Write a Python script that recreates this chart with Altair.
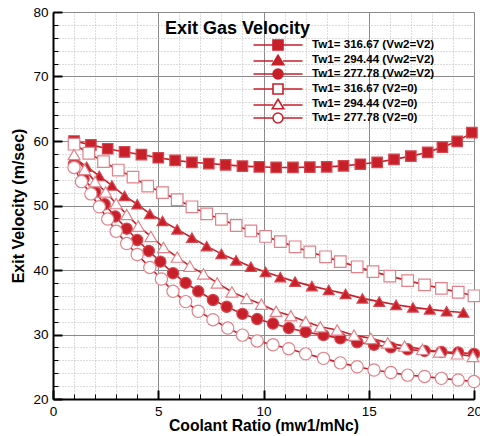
import altair as alt
import pandas as pd

# ---------------- data ----------------
chart_title = ["Exit Gas Velocity"]

names = [
    "Tw1= 316.67 (Vw2=V2)",
    "Tw1= 294.44 (Vw2=V2)",
    "Tw1= 277.78 (Vw2=V2)",
    "Tw1= 316.67 (V2=0)",
    "Tw1= 294.44 (V2=0)",
    "Tw1= 277.78 (V2=0)",
]

fs_x = [1.0, 1.8, 2.6, 3.4, 4.2, 5.0, 5.8, 6.6, 7.4, 8.2, 9.0, 9.8, 10.6, 11.4, 12.2,
        13.0, 13.8, 14.6, 15.4, 16.2, 17.0, 17.8, 18.5, 19.2, 19.9]
fs_y = [60.0, 59.4, 58.8, 58.3, 57.9, 57.4, 57.0, 56.7, 56.5, 56.3, 56.1, 56.0, 55.9, 55.9, 55.95,
        56.0, 56.15, 56.4, 56.7, 57.15, 57.65, 58.25, 59.05, 59.95, 61.3]

ft_x = [1.0, 1.6, 2.2, 2.8, 3.4, 4.0, 4.6, 5.2, 5.9, 6.6, 7.3, 8.0, 8.7, 9.4, 10.1, 10.8,
        11.5, 12.3, 13.1, 13.9, 14.7, 15.5, 16.3, 17.1, 17.9, 18.7, 19.5]
ft_y = [57.4, 56.0, 54.6, 53.1, 51.5, 50.2, 48.7, 47.6, 46.3, 45.0, 43.7, 42.5, 41.5, 40.5, 39.7, 38.9,
        38.2, 37.5, 36.9, 36.3, 35.6, 35.1, 34.6, 34.2, 33.9, 33.6, 33.4]

fc_x = [1.0, 1.45, 2.0, 2.45, 2.95, 3.5, 4.0, 4.55, 5.1, 5.7, 6.3, 6.9, 7.6, 8.25, 9.0, 9.7,
        10.45, 11.2, 12.0, 12.85, 13.65, 14.45, 15.25, 16.05, 16.85, 17.65, 18.45, 19.25, 20.0]
fc_y = [56.3, 54.2, 52.1, 50.2, 48.3, 46.4, 44.65, 42.95, 41.3, 39.5, 38.0, 36.7, 35.35, 34.3, 33.2, 32.4,
        31.7, 31.0, 30.4, 29.9, 29.4, 28.8, 28.4, 28.0, 27.7, 27.45, 27.3, 27.2, 27.0]

os_x = [1.0, 1.7, 2.4, 3.1, 3.8, 4.5, 5.2, 5.9, 6.6, 7.3, 8.0, 8.7, 9.4, 10.1, 10.8, 11.5,
        12.2, 12.95, 13.65, 14.45, 15.2, 16.0, 16.85, 17.65, 18.45, 19.25, 20.0]
os_y = [59.5, 58.1, 56.8, 55.5, 54.4, 53.0, 52.0, 50.9, 49.8, 48.7, 47.85, 46.9, 46.05, 45.2, 44.4, 43.6,
        42.8, 42.05, 41.3, 40.5, 39.75, 39.05, 38.35, 37.7, 37.15, 36.55, 36.0]

ot_x = [1.0, 1.5, 2.0, 2.5, 3.0, 3.5, 4.05, 4.65, 5.25, 5.9, 6.5, 7.15, 7.8, 8.5, 9.2, 9.9,
        10.6, 11.3, 12.0, 12.7, 13.5, 14.3, 15.1, 15.9, 16.7, 17.55, 18.35, 19.2, 19.95]
ot_y = [57.9, 55.6, 53.7, 52.1, 50.3, 48.6, 46.8, 45.2, 43.5, 42.0, 40.6, 39.4, 38.0, 36.6, 35.6, 34.7,
        33.6, 32.9, 32.0, 31.2, 30.7, 29.9, 29.4, 28.7, 28.2, 27.7, 27.3, 27.0, 26.6]

oc_x = [1.0, 1.35, 1.8, 2.2, 2.6, 3.0, 3.5, 4.0, 4.6, 5.15, 5.7, 6.3, 6.9, 7.6, 8.3, 9.0,
        9.7, 10.45, 11.2, 12.0, 12.85, 13.65, 14.45, 15.25, 16.05, 16.85, 17.65, 18.45, 19.25, 20.0]
oc_y = [55.9, 53.7, 51.8, 49.8, 47.9, 46.0, 44.1, 42.4, 40.4, 38.6, 36.7, 35.1, 33.6, 32.3, 31.0, 29.9,
        29.0, 28.4, 27.8, 27.0, 26.3, 25.6, 25.0, 24.5, 24.1, 23.7, 23.5, 23.2, 22.95, 22.7]

major_x = [0, 5, 10, 15, 20]
major_y = [20, 30, 40, 50, 60, 70, 80]
minor_x = list(range(0, 21))
minor_y = list(range(20, 81, 2))

series_x = [fs_x, ft_x, fc_x, os_x, ot_x, oc_x]
series_y = [fs_y, ft_y, fc_y, os_y, ot_y, oc_y]

rows = []
for n, xs_, ys_ in zip(names, series_x, series_y):
    for j, (a, b) in enumerate(zip(xs_, ys_)):
        rows.append({"series": n, "x": a, "y": b, "idx": j})
df = pd.DataFrame(rows)

# ---------------- styling ----------------
RED = "#c8202a"
PINK = "#e38089"
FONT = "Liberation Sans"
W, H = 421, 387


def X(axis):
    return alt.X("x:Q", scale=alt.Scale(domain=[0, 20], nice=False, zero=False), axis=axis)


def Y(axis):
    return alt.Y("y:Q", scale=alt.Scale(domain=[20, 80], nice=False, zero=False), axis=axis)


base = alt.Chart(df)
noax = dict(labels=False, ticks=False, domain=False, title=None)

grid_minor = base.mark_point(opacity=0).encode(
    x=X(alt.Axis(values=minor_x, grid=True, gridColor="#b8b8b8", gridDash=[1, 2], gridWidth=1, **noax)),
    y=Y(alt.Axis(values=minor_y, grid=True, gridColor="#b8b8b8", gridDash=[1, 2], gridWidth=1, **noax)),
)

grid_major = base.mark_point(opacity=0).encode(
    x=X(alt.Axis(orient="bottom", values=major_x, grid=True, gridColor="#8a8a8a", gridWidth=1,
                 ticks=False, domain=True, domainColor="black", domainWidth=2,
                 labelFont=FONT, labelFontSize=13.5, labelColor="black", labelPadding=5,
                 labelFlush=False, labelOverlap=False, format="d",
                 title="Coolant Ratio (mw1/mNc)", titleFont=FONT, titleFontSize=15.7,
                 titleFontWeight="bold", titleColor="black", titlePadding=1)),
    y=Y(alt.Axis(orient="left", values=major_y, grid=True, gridColor="#8a8a8a", gridWidth=1,
                 ticks=False, domain=True, domainColor="black", domainWidth=2,
                 labelFont=FONT, labelFontSize=13.5, labelColor="black", labelPadding=5,
                 labelFlush=False, labelOverlap=False, format="d",
                 title="Exit Velocity (m/sec)", titleFont=FONT, titleFontSize=16,
                 titleFontWeight="bold", titleColor="black", titlePadding=6)),
)

ticks_minor = base.mark_point(opacity=0).encode(
    x=X(alt.Axis(orient="top", offset=-H, values=minor_x, ticks=True, tickSize=5, tickColor="black",
                 tickWidth=1, labels=False, domain=False, grid=False, title=None)),
    y=Y(alt.Axis(orient="right", offset=-W, values=minor_y, ticks=True, tickSize=5, tickColor="black",
                 tickWidth=1, labels=False, domain=False, grid=False, title=None)),
)

ticks_major = base.mark_point(opacity=0).encode(
    x=X(alt.Axis(orient="top", offset=-H, values=major_x, ticks=True, tickSize=9, tickColor="black",
                 tickWidth=2, labels=False, domain=False, grid=False, title=None)),
    y=Y(alt.Axis(orient="right", offset=-W, values=major_y, ticks=True, tickSize=9, tickColor="black",
                 tickWidth=2, labels=False, domain=False, grid=False, title=None)),
)

lines = base.mark_line(color=RED, strokeWidth=1.6).encode(
    x=X(None), y=Y(None), detail="series:N", order="idx:Q"
)

points = base.mark_point(filled=True, opacity=1, strokeWidth=1.2).encode(
    x=X(None),
    y=Y(None),
    shape=alt.Shape("series:N", scale=alt.Scale(domain=names, range=["square", "triangle-up", "circle"] * 2), legend=None),
    fill=alt.Fill("series:N", scale=alt.Scale(domain=names, range=[RED] * 3 + ["white"] * 3), legend=None),
    stroke=alt.Stroke("series:N", scale=alt.Scale(domain=names, range=["#d8474f"] * 3 + [PINK] * 3), legend=None),
    size=alt.Size("series:N", scale=alt.Scale(domain=names, range=[110, 150, 110, 110, 150, 110]), legend=None),
)

legend_paths = [
    "M-4.9,0H-1M1,0H4.9M-1,-1H1V1H-1Z",
    "M-4.9,0.2H-1M1,0.2H4.9M0,-0.95L1.15,0.95H-1.15Z",
    "M-4.9,0H-1M1,0H4.9M-1,0A1,1,0,1,1,1,0A1,1,0,1,1,-1,0Z",
] * 2
legend_fills = [RED] * 3 + ["white"] * 3
legend_strokes = [RED] * 6

leg_props = dict(
    orient="none", legendX=219, legendY=27, title=None, padding=0,
    labelFont=FONT, labelFontSize=11.6, labelFontWeight="bold", labelColor="black",
    labelOffset=28, labelLimit=400, rowPadding=-3.6,
    symbolSize=100, symbolStrokeWidth=1.6,
)

legend_layer = base.transform_filter("false").mark_point(
    filled=True, opacity=1, strokeWidth=1.6, size=100
).encode(
    x=X(None),
    y=Y(None),
    shape=alt.Shape("series:N", scale=alt.Scale(domain=names, range=legend_paths), legend=alt.Legend(**leg_props)),
    fill=alt.Fill("series:N", scale=alt.Scale(domain=names, range=legend_fills), legend=alt.Legend(**leg_props)),
    stroke=alt.Stroke("series:N", scale=alt.Scale(domain=names, range=legend_strokes), legend=alt.Legend(**leg_props)),
)

title_layer = alt.Chart(pd.DataFrame({"t": chart_title})).mark_text(
    align="left", baseline="alphabetic", font=FONT, fontSize=18, fontWeight="bold", color="black"
).encode(x=alt.value(112), y=alt.value(21.5), text="t:N")

chart = alt.layer(
    grid_minor, grid_major, ticks_minor, ticks_major, lines, points, legend_layer, title_layer
).resolve_scale(
    x="independent", y="independent", shape="independent", fill="independent",
    stroke="independent", size="independent"
).properties(
    width=W,
    height=H,
    autosize=alt.AutoSizeParams(type="none"),
    padding={"left": 53, "top": 12, "right": 6, "bottom": 37},
).configure_view(
    stroke="black", strokeWidth=2
).configure(background="white")

chart.save("out.html", embed_options={"renderer": "svg", "actions": False})
